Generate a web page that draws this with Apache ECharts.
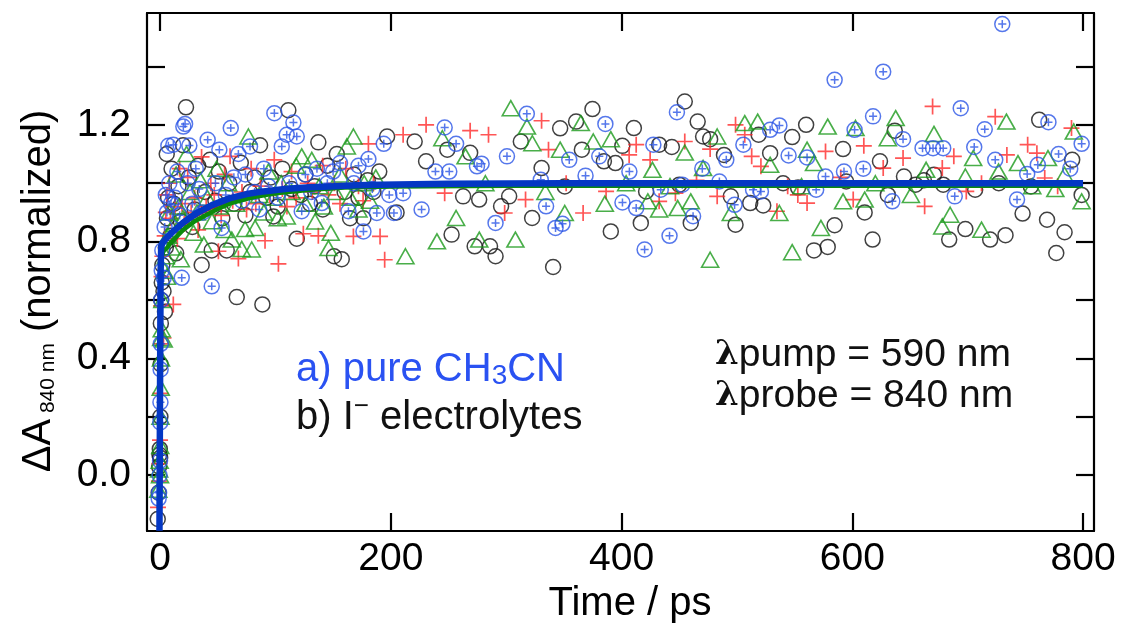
<!DOCTYPE html>
<html>
<head>
<meta charset="utf-8">
<script src="https://cdn.jsdelivr.net/npm/echarts@6/dist/echarts.min.js"></script>
<style>html,body{margin:0;padding:0;background:#fff}#c{width:1129px;height:626px}</style>
</head>
<body>
<div id="c"></div>
<script>
// ---- axis ticks / labels ----
const xTicks = [0, 200, 400, 600, 800];
const yTicks = [0, 0.2, 0.4, 0.6, 0.8, 1.0, 1.2, 1.4];
const yLabels = [0, 0.4, 0.8, 1.2];
const xRange = [-11.3, 809.5];
const yRange = [-0.191, 1.583];

// ---- data: [time (ps), normalized dA] ----
const blackPts = [[-2,-0.15],[-1.2,-0.06],[-0.8,0.03],[-0.5,0.07],[-0.2,0.09],[0.1,0.06],[0.3,0.2],[0.5,0.38],[0.7,0.52],[1,0.6],[1.5,0.66],[2,0.72],[3,0.63],[4.3,0.56],[5,0.78],[6,0.88],[5.8,1.10],[7,0.95],[9,0.82],[10,1.05],[12,0.93],[14,0.76],[16,0.99],[18,0.87],[20,1.13],[22.5,1.26],[25,1.02],[28,0.85],[30,0.91],[33,1.06],[36.1,0.72],[39,0.97],[43.3,1.08],[44.8,0.77],[48,0.94],[51,1.04],[54,0.88],[57.8,0.77],[60,1.0],[64,0.93],[66.5,0.61],[70,1.07],[74,0.89],[78,0.97],[82,1.02],[86.7,1.13],[88.7,0.585],[92,0.95],[96,1.02],[98.2,0.886],[102,0.92],[106,1.05],[111.2,1.25],[114,0.98],[118.5,0.81],[122,0.96],[126,1.03],[130,0.93],[134,0.99],[137.2,1.14],[141,0.91],[145,1.06],[150.8,0.75],[153.2,1.10],[157.5,0.74],[160,0.97],[164.7,0.88],[168,1.03],[172,0.95],[176.3,0.88],[180,1.01],[185,0.97],[190,1.04],
[196.8,1.16],[205,0.90],[220.7,1.143],[230.6,1.075],[249,1.115],[252.7,0.824],[262.7,0.955],[268.8,1.104],[272.7,0.784],[276.6,0.944],[286,0.784],[290.8,0.75],[295.6,0.921],[302.6,0.955],[312.7,1.143],[322.5,0.881],[330.7,1.052],[340.7,0.713],[346.8,1.188],[350.8,0.989],[360.6,1.211],[365.6,1.115],[374.8,1.254],[384.7,1.075],[390.7,0.835],[394.7,1.069],[400.7,1.128],[410.7,1.189],[416.7,0.864],[421.3,0.972],[432.6,1.132],[443.6,1.124],[450,0.995],[454.8,1.28],[460,0.864],[466,1.211],[470.7,1.16],[476.8,1.151],[488.8,1.097],[494.7,0.955],[498.8,0.858],[511.5,0.932],[518.8,1.166],[522.8,0.924],[528.8,1.103],[540,1.0],[547.9,1.158],[553,0.985],[560,1.2],[566.8,0.77],[578.7,0.782],[584.7,0.856],[592,1.117],[594.7,1.006],[610.7,0.9],[617.6,0.807],[624,1.075],[630.8,0.96],[636.8,1.18],[644.8,1.023],[654.8,0.995],[662,1.01],[670.8,1.029],[678.8,0.995],[684,0.807],[698,0.843],[706.5,0.978],[719.5,0.807],[727,1.0],[732.8,0.822],[747.6,0.896],[754.8,0.989],[762,1.217],[768.8,0.875],[776.8,0.761],[784,0.832],[790.6,1.08],[798.8,0.96]];

const redPts = [[-1.8,-0.11],[-1,-0.02],[-0.5,0.04],[0,0.12],[0.3,0.28],[0.6,0.45],[0.9,0.58],[1.3,0.68],[2,0.75],[3,0.47],[4,0.82],[5,0.9],[6,0.96],[8,1.0],[9,0.88],[11.5,0.585],[13,0.92],[15,0.81],[17,1.05],[19,0.93],[21,0.86],[24,1.02],[27,0.9],[30,0.95],[33,0.84],[36,1.09],[40,0.92],[44,1.0],[47,0.96],[50.6,0.767],[53,0.89],[56,1.03],[60.7,1.092],[63,0.94],[67.9,0.742],[71,0.97],[75,0.91],[79,1.05],[83,0.93],[87,0.99],[91,0.803],[95,0.96],[99,1.08],[102.6,0.724],[106,0.98],[110,0.92],[114,1.04],[118,0.95],[124.2,0.827],[128,1.0],[132,0.97],[137.2,0.82],[141,1.06],[146,0.96],[151,1.0],[156,0.93],[161,1.05],[167.6,0.818],[172,0.99],[176,0.94],[180.6,1.135],[185,1.0],
[190.7,0.818],[194.7,0.738],[210.7,1.166],[230.6,1.2],[246.7,0.966],[268.8,1.18],[284.7,1.166],[298.7,0.898],[316.8,0.944],[330.7,1.214],[336.7,1.115],[352,1.0],[366.7,0.898],[386.6,0.972],[406.6,1.097],[412.7,1.132],[424.8,1.08],[432.6,0.938],[446.7,0.966],[454.8,1.143],[465,1.01],[476.8,1.117],[482.9,0.955],[498.8,1.2],[506.8,1.166],[512.8,1.092],[520.8,1.058],[534.7,0.904],[544,0.99],[552.8,0.96],[560.8,0.932],[576.8,1.109],[590,1.02],[600.8,0.944],[610,1.128],[626.8,1.052],[644,1.086],[662.7,0.921],[669.6,1.263],[678,1.052],[688,1.092],[698.8,0.972],[712,1.0],[723.9,1.228],[734,1.097],[752,1.132],[760,1.103],[766.8,1.018],[778,0.99],[790,1.189]];

const greenPts = [[-1.5,-0.05],[-0.8,0.02],[-0.3,0.05],[0,0.0],[0.2,0.1],[0.4,0.2],[0.6,0.3],[0.8,0.4],[1,0.47],[1.5,0.5],[2,0.6],[3.2,0.465],[4,0.7],[5,0.75],[6,0.68],[7,0.82],[8,0.9],[10,0.78],[12,0.86],[14,1.03],[16,0.92],[18,0.74],[20,0.88],[23,1.1],[26,0.97],[29,0.83],[32,0.9],[35,1.01],[38,0.79],[41,0.95],[45,0.87],[49,1.05],[52,0.92],[56,0.84],[59,1.0],[62.2,0.807],[66,0.93],[70.8,0.775],[73.7,0.843],[76.6,1.16],[79.5,0.773],[82.4,0.847],[86,0.96],[90,0.9],[94,1.04],[98,0.95],[102,0.88],[105,1.0],[109.8,0.886],[114,0.97],[118,1.06],[122.8,1.092],[126,0.93],[131.5,1.08],[134.4,0.869],[138,0.99],[142,0.92],[146,0.778],[148,0.83],[152,0.97],[156,1.03],[161.9,1.126],[165,0.95],[167.6,1.16],[172,0.91],[177,1.0],[182,0.94],[187,1.02],
[212.7,0.75],[240,0.801],[244.7,1.154],[256.6,0.881],[264.8,1.092],[276.7,0.807],[282,1.0],[304,1.257],[308,0.807],[318,1.194],[322.7,1.137],[334,0.97],[346.8,1.115],[350.8,0.898],[364.7,1.206],[375.5,1.143],[385.5,0.93],[390.7,1.151],[404,1.0],[422.8,0.938],[426.8,1.046],[432.6,0.91],[442,0.99],[448.7,0.915],[454.8,1.105],[460,0.938],[470.7,1.052],[476.8,0.738],[482.9,1.16],[494.7,0.898],[506.8,1.206],[518,1.211],[528.8,1.063],[536.8,0.898],[547.9,0.764],[556,0.99],[560.8,1.115],[566.8,1.069],[572.8,0.847],[578.7,1.194],[592,0.938],[602.8,1.189],[610.7,0.944],[620,1.0],[630.8,1.154],[637.6,1.223],[650.8,0.96],[664,1.046],[670.8,1.169],[678,0.852],[684.8,0.892],[698,1.023],[704.8,1.086],[712,0.841],[726.8,1.04],[733.6,1.211],[743.6,1.069],[756,0.99],[769.6,1.086],[776,0.98],[784,1.029],[792,1.177],[798.8,0.938]];

const bluePts = [[-1.2,-0.08],[-0.8,-0.06],[-0.4,0.0],[0,0.05],[0.2,0.181],[0.35,0.25],[0.5,0.362],[0.7,0.45],[1,0.6],[1.5,0.7],[2,0.77],[3.2,0.676],[4,0.85],[5,0.96],[6,0.9],[7.2,1.128],[8,1.0],[9.5,0.93],[11.5,1.132],[13,0.95],[15,1.04],[17,0.89],[18.8,0.676],[20.2,1.194],[21.7,1.203],[24,1.0],[25.4,1.129],[28,0.93],[31,1.05],[34,0.98],[37,0.9],[41.3,1.149],[44.8,0.647],[48,1.0],[51.4,1.115],[53.4,0.847],[57,0.96],[61.3,1.189],[64,1.02],[67.9,1.1],[71,0.94],[74,1.03],[78,1.126],[82,0.97],[86,0.91],[90,1.05],[94,0.99],[99.1,1.24],[102,0.95],[105.5,1.126],[109.8,1.166],[112,1.0],[115.6,1.208],[118.5,1.16],[122.8,0.904],[126,1.03],[131,0.97],[136,1.05],[140.2,0.932],[145,1.0],[150,1.04],[156,1.069],[163.3,0.904],[168,1.0],[172,1.06],[176.3,0.835],[180.6,1.083],[184,0.98],[187.9,0.898],
[193.9,1.135],[198.7,0.96],[202.7,0.898],[210.7,0.966],[226.7,0.91],[238.7,1.04],[246.7,1.191],[250.7,1.04],[256.6,1.135],[274.7,1.058],[278.7,1.067],[290.8,0.864],[300.7,1.092],[317.9,1.238],[330,1.012],[334.6,0.921],[342.8,0.847],[348.8,0.861],[354.7,1.08],[368.8,1.026],[380.7,1.092],[386,1.203],[400.8,0.934],[406.8,1.04],[412.7,0.915],[420,0.773],[427.6,1.132],[434,0.978],[441.6,0.82],[448,1.243],[452.7,0.995],[462,0.887],[470,1.05],[484.8,1.006],[490.8,1.08],[498,0.926],[505.6,1.132],[514,0.978],[520.8,0.972],[528.8,1.183],[536.8,1.198],[544.8,1.095],[560.8,1.088],[568.7,0.978],[576.8,1.023],[584.7,1.354],[592.8,1.04],[602,1.183],[609.6,1.05],[618,1.229],[626.8,1.382],[634.7,0.938],[644,1.151],[660.9,1.12],[670,1.12],[678.8,1.12],[688.8,0.955],[694,1.257],[705.7,1.124],[714.8,1.185],[723.9,1.08],[730,1.545],[742.8,0.944],[751.6,1.032],[760.8,1.063],[770,1.209],[778.8,1.1],[788.9,1.05],[798.8,1.135]];

// ---- fit curves ----
const blackFit = [[-0.5,-0.19],[0,0.3],[0.5,0.7],[1,0.78],[2,0.795],[5,0.81],[10,0.83],[20,0.865],[31.8,0.898],[45,0.925],[60.7,0.949],[75,0.963],[89.6,0.972],[110,0.981],[130,0.986],[147,0.989],[170,0.993],[190.7,0.995],[250,0.998],[350,1.0],[800,1.0]];
const redFit = [[-0.5,-0.15],[0,0.3],[0.5,0.68],[1,0.78],[3,0.8],[10,0.825],[20,0.86],[32,0.89],[45,0.915],[60,0.94],[80,0.96],[100,0.972],[130,0.984],[160,0.99],[200,0.994],[300,0.997],[800,0.997]];
const greenFit = [[-0.5,-0.15],[0,0.3],[0.5,0.65],[1,0.74],[3,0.77],[6,0.778],[10,0.8],[20,0.84],[30,0.87],[46.5,0.905],[60,0.93],[80,0.952],[100,0.966],[130,0.978],[160,0.985],[200,0.989],[300,0.991],[800,0.991]];
const blueFit = [[-0.5,-0.19],[0,0.3],[0.5,0.7],[1,0.78],[2,0.795],[5,0.81],[10,0.83],[20,0.865],[31.8,0.898],[45,0.925],[60.7,0.949],[75,0.963],[89.6,0.972],[110,0.981],[130,0.986],[147,0.989],[170,0.993],[190.7,0.995],[250,0.998],[350,1.0],[800,1.0]];

const FONT = 'Liberation Sans, Arial, Helvetica, sans-serif';
const C_BLACK = '#111111', C_RED = '#ff2a2a', C_GREEN = '#1c9a1c', C_BLUE = '#2b55e6';
const PLUS = 'path://M0,5 L10,5 M5,0 L5,10';
const OPLUS = 'path://M0,5 A5,5 0 1,1 10,5 A5,5 0 1,1 0,5 Z M2.3,5 L7.7,5 M5,2.3 L5,7.7';

function axisCommon(pos, showLabel, isX) {
  const o = {
    type: 'value', position: pos,
    min: isX ? xRange[0] : yRange[0], max: isX ? xRange[1] : yRange[1],
    axisLine: { show: true, onZero: false, lineStyle: { color: '#000', width: 2.2 } },
    axisTick: { show: true, inside: true, length: 18, customValues: isX ? xTicks : yTicks, lineStyle: { color: '#000', width: 2.2 } },
    axisLabel: { show: showLabel },
    splitLine: { show: false }
  };
  if (showLabel) {
    o.axisLabel = {
      show: true, customValues: isX ? xTicks : yLabels, color: '#000',
      fontFamily: FONT, fontSize: 39, margin: isX ? 9 : 16,
      formatter: isX ? (v => String(Math.round(v))) : (v => v.toFixed(1))
    };
  }
  return o;
}

const chart = echarts.init(document.getElementById('c'), null, { renderer: 'canvas' });
chart.setOption({
  animation: false,
  backgroundColor: '#fff',
  grid: { left: 147, right: 35, top: 13, bottom: 95, containLabel: false },
  xAxis: [axisCommon('bottom', true, true), axisCommon('top', false, true)],
  yAxis: [axisCommon('left', true, false), axisCommon('right', false, false)],
  series: [
    { type: 'scatter', data: blackPts, symbol: 'circle', symbolSize: 15,
      itemStyle: { color: 'none', borderColor: C_BLACK, borderWidth: 1.5 }, z: 2 },
    { type: 'scatter', data: redPts, symbol: PLUS, symbolSize: 16,
      itemStyle: { color: 'none', borderColor: C_RED, borderWidth: 1.7 }, z: 2 },
    { type: 'scatter', data: greenPts, symbol: 'triangle', symbolSize: [17, 15],
      itemStyle: { color: 'none', borderColor: C_GREEN, borderWidth: 1.6 }, z: 2 },
    { type: 'scatter', data: bluePts, symbol: OPLUS, symbolSize: 15,
      itemStyle: { color: 'none', borderColor: C_BLUE, borderWidth: 1.5 }, z: 2 },
    { type: 'line', data: blackFit, showSymbol: false, symbol: 'none', lineStyle: { color: '#000', width: 2 }, z: 3 },
    { type: 'line', data: redFit, showSymbol: false, symbol: 'none', lineStyle: { color: '#ee1111', width: 2.5 }, z: 3 },
    { type: 'line', data: greenFit, showSymbol: false, symbol: 'none', lineStyle: { color: '#0b8a0b', width: 4.5 }, z: 3 },
    { type: 'line', data: blueFit, showSymbol: false, symbol: 'none', lineStyle: { color: '#0437c4', width: 6.5 }, z: 3 }
  ],
  graphic: [
    { type: 'text', x: 37, y: 291, rotation: Math.PI / 2,
      style: { text: '{a|ΔA}{s| 840 nm}{a| (normalized)}', align: 'center', verticalAlign: 'middle',
        rich: { a: { fontFamily: FONT, fontSize: 40, fill: '#000', lineHeight: 44, verticalAlign: 'bottom' },
                s: { fontFamily: FONT, fontSize: 21, fill: '#000', lineHeight: 22, verticalAlign: 'bottom' } } } },
    { type: 'text', x: 630, y: 604,
      style: { text: 'Time / ps', fontFamily: FONT, fontSize: 40, fill: '#000', align: 'center', verticalAlign: 'middle' } },
    { type: 'text', x: 296, y: 368,
      style: { text: '{b|a) pure CH}{s|3}{b|CN}', verticalAlign: 'middle', align: 'left',
        rich: { b: { fontFamily: FONT, fontSize: 40, fill: '#2a52f2', lineHeight: 44, verticalAlign: 'bottom' },
                s: { fontFamily: FONT, fontSize: 28, fill: '#2a52f2', lineHeight: 36, verticalAlign: 'bottom' } } } },
    { type: 'text', x: 296, y: 416,
      style: { text: '{b|b) I}{p|−}{b| electrolytes}', verticalAlign: 'middle', align: 'left',
        rich: { b: { fontFamily: FONT, fontSize: 40, fill: '#111', lineHeight: 44, verticalAlign: 'bottom' },
                p: { fontFamily: FONT, fontSize: 26, fill: '#111', lineHeight: 42, verticalAlign: 'top' } } } },
    { type: 'text', x: 715, y: 355,
      style: { text: '{l|λ}{t|pump = 590 nm}', verticalAlign: 'middle', align: 'left',
        rich: { l: { fontFamily: 'DejaVu Serif', fontWeight: 'bold', fontSize: 34, fill: '#111', lineHeight: 40 },
                t: { fontFamily: FONT, fontSize: 39, fill: '#111', lineHeight: 40 } } } },
    { type: 'text', x: 715, y: 396,
      style: { text: '{l|λ}{t|probe = 840 nm}', verticalAlign: 'middle', align: 'left',
        rich: { l: { fontFamily: 'DejaVu Serif', fontWeight: 'bold', fontSize: 34, fill: '#111', lineHeight: 40 },
                t: { fontFamily: FONT, fontSize: 39, fill: '#111', lineHeight: 40 } } } }
  ]
});
</script>
</body>
</html>
